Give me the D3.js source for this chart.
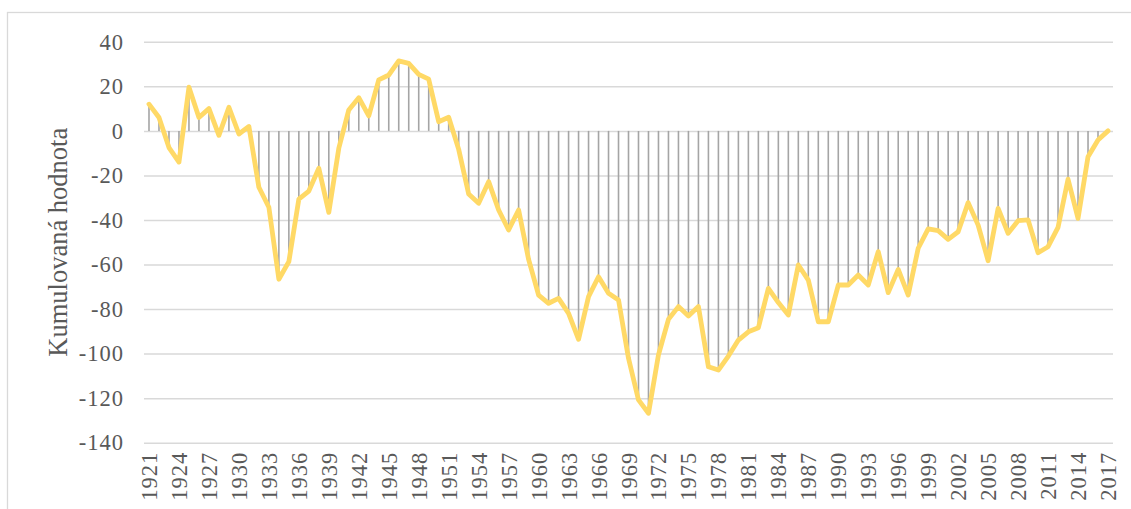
<!DOCTYPE html>
<html>
<head>
<meta charset="utf-8">
<script src="https://cdn.jsdelivr.net/npm/d3@7"></script>
<style>
  html, body { margin: 0; padding: 0; background: #fff; }
  svg { display: block; }
  text { font-family: "Liberation Serif", "Times New Roman", serif; fill: #595959; }
</style>
</head>
<body>
<svg id="chart" width="1131" height="509"></svg>
<script>
// ---- data ----
const years = d3.range(1921, 2018).map(String);
const values = [
  12, 6, -7.5, -14, 19.6, 6, 10, -2, 10.6, -1.4,
  2, -25.3, -34.3, -66.6, -58.7, -30.6, -27, -16.8, -36.6, -7.8,
  9.4, 14.9, 6.7, 22.9, 25.1, 31.4, 30.3, 25.4, 23.2, 4.1,
  6.1, -8.3, -28.3, -32.5, -22.8, -35.5, -44.5, -35.5, -57.7, -73.7,
  -77.4, -75.2, -81.9, -93.6, -74.4, -65.5, -72.9, -75.9, -102.1, -120.8,
  -126.8, -100.6, -84.6, -78.9, -83.1, -78.9, -105.9, -107.4, -101.1, -93.9,
  -90.2, -88.4, -70.7, -77.1, -82.7, -60.2, -67, -85.7, -85.7, -69.2,
  -69.2, -64.7, -69.2, -54.2, -72.6, -62.2, -73.7, -52.7, -44, -44.8,
  -48.7, -45.3, -32.2, -42.3, -58.3, -34.8, -46, -40.3, -40, -54.7,
  -52, -43.3, -21.7, -39.3, -11.6, -4.1, 0
];
const yTicks = [40, 20, 0, -20, -40, -60, -80, -100, -120, -140];
const xTickLabels = years.filter((y, i) => i % 3 === 0);
const yTitle = "Kumulovaná hodnota";

// ---- layout ----
const svg = d3.select("#chart");
const plot = { left: 144, right: 1113, top: 41.8, bottom: 442.7 };

const x = d3.scaleBand().domain(years).range([plot.left, plot.right]).padding(0);
const y = d3.scaleLinear().domain([-140, 40]).range([plot.bottom, plot.top]);
const cx = d => x(d) + x.bandwidth() / 2;

// chart border
svg.append("rect")
  .attr("x", 7.5).attr("y", 12.5)
  .attr("width", 1140).attr("height", 520)
  .attr("fill", "none").attr("stroke", "#D9D9D9").attr("stroke-width", 1.3);

// gridlines + y labels
const yAxis = d3.axisLeft(y).tickValues(yTicks).tickSize(-(plot.right - plot.left)).tickPadding(20).tickFormat(d3.format("d"));
const gy = svg.append("g").attr("transform", `translate(${plot.left},0)`).call(yAxis);
gy.select(".domain").remove();
gy.selectAll(".tick line").attr("stroke", "#D9D9D9").attr("stroke-width", 1.5);
gy.selectAll(".tick text").attr("font-size", 22.5).attr("fill", "#595959")
  .attr("font-family", "Liberation Serif").attr("letter-spacing", 1)
  .text(d => d < 0 ? "-" + Math.abs(d) : d);

// x axis labels
const xAxis = d3.axisBottom(x).tickValues(xTickLabels).tickSize(0).tickPadding(0);
const gx = svg.append("g").attr("transform", `translate(0,${plot.bottom})`).call(xAxis);
gx.select(".domain").remove();
gx.selectAll(".tick text")
  .attr("font-size", 22.5).attr("fill", "#595959").attr("font-family", "Liberation Serif")
  .attr("letter-spacing", 1)
  .attr("text-anchor", "end")
  .attr("dy", null).attr("y", 0)
  .attr("transform", "translate(8,9) rotate(-90)");

// drop lines
svg.append("g").selectAll("line").data(values).join("line")
  .attr("x1", (d, i) => cx(years[i])).attr("x2", (d, i) => cx(years[i]))
  .attr("y1", y(0)).attr("y2", d => y(d))
  .attr("stroke", "#A5A5A5").attr("stroke-width", 1.6);

// main line
const line = d3.line().x((d, i) => cx(years[i])).y(d => y(d));
svg.append("path").datum(values)
  .attr("d", line)
  .attr("fill", "none").attr("stroke", "#FFD966").attr("stroke-width", 4.8)
  .attr("stroke-linejoin", "round").attr("stroke-linecap", "round");

// y title
svg.append("text")
  .attr("transform", `translate(67,${(plot.top + plot.bottom) / 2}) rotate(-90)`)
  .attr("text-anchor", "middle")
  .attr("font-size", 26.5).attr("fill", "#595959")
  .text(yTitle);
</script>
</body>
</html>
